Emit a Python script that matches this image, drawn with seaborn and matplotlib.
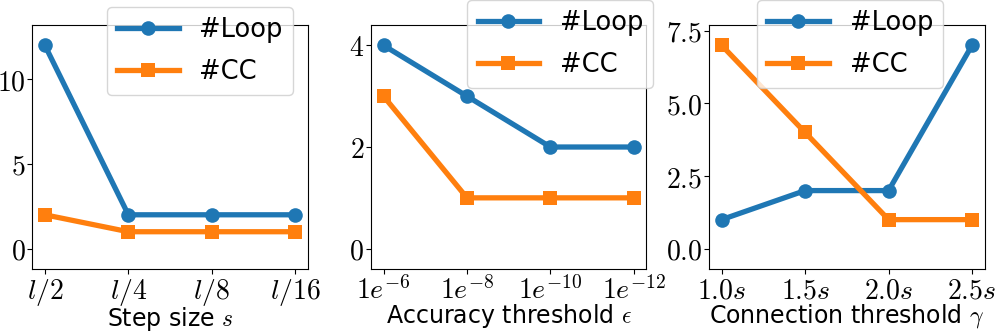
import pandas as pd
import matplotlib
matplotlib.use("Agg")
import matplotlib.pyplot as plt
import seaborn as sns

plt.rcParams['mathtext.fontset'] = 'cm'
plt.rcParams['font.family'] = ['DejaVu Sans']

# data
step_labels = ['$l/2$', '$l/4$', '$l/8$', '$l/16$']
step_loop = [12, 2, 2, 2]
step_cc = [2, 1, 1, 1]

acc_labels = ['$1e^{-6}$', '$1e^{-8}$', '$1e^{-10}$', '$1e^{-12}$']
acc_loop = [4, 3, 2, 2]
acc_cc = [3, 1, 1, 1]

conn_labels = ['$1.0s$', '$1.5s$', '$2.0s$', '$2.5s$']
conn_loop = [1, 2, 2, 7]
conn_cc = [7, 4, 1, 1]

panels = [
    (step_labels, step_loop, step_cc, 'Step size $s$', [0, 5, 10], ['$0$', '$5$', '$10$'], (-1.2, 13.2)),
    (acc_labels, acc_loop, acc_cc, r'Accuracy threshold $\epsilon$', [0, 2, 4], ['$0$', '$2$', '$4$'], (-0.4, 4.4)),
    (conn_labels, conn_loop, conn_cc, r'Connection threshold $\gamma$', [0, 2.5, 5, 7.5],
     ['$0.0$', '$2.5$', '$5.0$', '$7.5$'], (-0.7, 7.7)),
]

# axes boxes and legend anchors in figure fractions
ax_lefts = [0.0325, 0.3725, 0.712]
ax_width = 0.2765
leg_anchor = [(0.294, 0.979), (0.656, 1.0), (0.947, 1.0)]

fig = plt.figure(figsize=(9.96, 3.34), dpi=100)

for i, (labels, loop, cc, xlabel, yt, ytl, ylim) in enumerate(panels):
    ax = fig.add_axes([ax_lefts[i], 0.1946, ax_width, 0.7305])
    df = pd.DataFrame({'x': range(len(labels)), 'loop': loop, 'cc': cc})
    sns.lineplot(data=df, x='x', y='loop', ax=ax, color='#1f77b4', marker='o',
                 markersize=10.5, linewidth=3.8, markeredgewidth=0, label='#Loop')
    sns.lineplot(data=df, x='x', y='cc', ax=ax, color='#ff7f0e', marker='s',
                 markersize=10.5, linewidth=3.8, markeredgewidth=0, label='#CC')
    ax.set_xticks(range(len(labels)))
    ax.set_xticklabels(labels, fontsize=20)
    ax.set_yticks(yt)
    ax.set_yticklabels(ytl, fontsize=20)
    ax.tick_params(axis='x', pad=2)
    ax.tick_params(axis='y', pad=1.5)
    ax.set_ylim(*ylim)
    ax.set_xlabel(xlabel, fontsize=17, labelpad=-2)
    ax.set_ylabel('')
    ax.legend(loc='upper right', bbox_to_anchor=leg_anchor[i], bbox_transform=fig.transFigure,
              borderaxespad=0, fontsize=18.5, handlelength=2.4, handletextpad=0.8,
              labelspacing=0.6)

fig.savefig('out.png', dpi=100)
